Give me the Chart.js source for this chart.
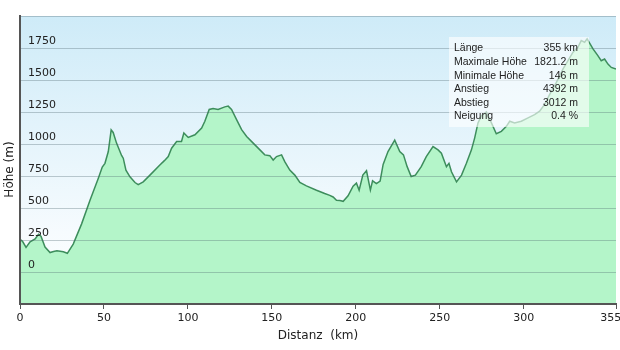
<!DOCTYPE html>
<html>
<head>
<meta charset="utf-8">
<script src="https://cdn.jsdelivr.net/npm/chart.js@4/dist/chart.umd.min.js"></script>
<style>
  body { margin: 0; background: #fff; }
  #wrap { width: 620px; height: 350px; }
</style>
</head>
<body>
<div id="wrap"><canvas id="profile"></canvas></div>
<script>
// Höhenprofil - Daten
const distances = [0, 1.5, 3.6, 6, 9, 11, 12.5, 14.9, 17.9, 20, 22, 25.8, 28.2, 31.7, 36.7, 41.7, 46.6, 49, 50.6, 52.6,
  54.3, 55.5, 57.5, 60.5, 61.5, 63.1, 65.5, 68.5, 70.4, 73.4, 77.4, 83.3, 86, 88.3, 90.3, 93.3, 96.2, 97.6, 100.2, 104.2,
  108.2, 110.1, 112.7, 115, 118, 122, 124, 126, 129, 132, 135, 138.9, 142.9, 145.8, 148.8, 150.8, 152.8, 155.8, 157.7, 160.7,
  163.7, 166.7, 170.6, 176.6, 181.5, 184.5, 186.5, 188.5, 190.5, 192.5, 195.4, 198.4, 200.4, 202, 204.2, 206.4, 208.7, 210, 212.3, 214.5,
  216.3, 219.2, 223.2, 226.2, 228.4, 230.6, 233, 235.5, 239, 242, 246, 249, 251, 254, 255.5, 257, 260, 263, 265.9, 268.9,
  270.8, 272.8, 274.8, 277.8, 280.8, 283.7, 286.7, 289.7, 291.7, 294.6, 298.6, 302.6, 306.5, 309.5, 312.5, 315.5, 319.4, 323.4, 326.4, 329.4,
  332.3, 334.3, 336.3, 337.8, 341.3, 344.2, 346.2, 348.2, 350.2, 352.2, 355];
const elevations = [255, 240, 192, 235, 258, 295, 280, 195, 152, 160, 166, 158, 146, 218, 376, 560, 731, 820, 849, 941,
  1110, 1090, 1007, 910, 889, 796, 744, 699, 683, 704, 757, 836, 870, 902, 967, 1020, 1020, 1086, 1051, 1072,
  1125, 1178, 1270, 1277, 1270, 1290, 1296, 1270, 1191, 1112, 1059, 1007, 954, 915, 909, 875, 902, 915, 862, 796,
  757, 699, 673, 639, 613, 599, 586, 560, 558, 552, 595, 670, 694, 639, 757, 791, 640, 712, 691, 710,
  840, 941, 1030, 941, 915, 823, 746, 757, 823, 902, 980, 954, 928, 823, 849, 783, 704, 757, 850, 954,
  1046, 1165, 1220, 1250, 1165, 1080, 1099, 1138, 1178, 1165, 1178, 1204, 1230, 1256, 1309, 1388, 1480, 1585, 1651, 1717,
  1756, 1808, 1795, 1821, 1743, 1690, 1651, 1664, 1624, 1598, 1585];

const xTickValues = [0, 50, 100, 150, 200, 250, 300, 355];
const yTickValues = [0, 250, 500, 750, 1000, 1250, 1500, 1750];

const infoLabels = ['Länge', 'Maximale Höhe', 'Minimale Höhe', 'Anstieg', 'Abstieg', 'Neigung'];
const infoValues = ['355 km', '1821.2 m', '146 m', '4392 m', '3012 m', '0.4 %'];

const points = distances.map((d, i) => ({ x: d, y: elevations[i] }));

// blauer Verlauf im Hintergrund
const skyBackground = {
  id: 'skyBackground',
  beforeDraw(chart) {
    const { ctx, chartArea: a } = chart;
    if (!a) return;
    const g = ctx.createLinearGradient(0, a.top, 0, a.bottom);
    g.addColorStop(0, 'rgb(206,235,248)');
    g.addColorStop(0.75, 'rgb(246,251,254)');
    g.addColorStop(1, 'rgb(255,255,255)');
    ctx.save();
    ctx.fillStyle = g;
    ctx.fillRect(a.left, a.top, a.right - a.left, a.bottom - a.top);
    ctx.restore();
  },
};

// Infokasten oben rechts
const infoBox = {
  id: 'infoBox',
  afterDraw(chart) {
    const { ctx, chartArea: a } = chart;
    const w = 140, h = 90;
    const left = a.right - 27 - w;
    const top = a.top + 21;
    ctx.save();
    ctx.fillStyle = 'rgba(255,255,255,0.62)';
    ctx.fillRect(left, top, w, h);
    ctx.font = '10.5px "Liberation Sans", Arial, sans-serif';
    ctx.fillStyle = '#222';
    ctx.textBaseline = 'middle';
    infoLabels.forEach((lab, i) => {
      const y = top + 11.5 + i * 13.6;
      ctx.textAlign = 'left';
      ctx.fillText(lab, left + 5, y);
      ctx.textAlign = 'right';
      ctx.fillText(infoValues[i], left + w - 11, y);
    });
    ctx.restore();
  },
};

const ctx = document.getElementById('profile');
new Chart(ctx, {
  type: 'line',
  data: {
    datasets: [
      {
        data: points,
        borderColor: '#3d8d5c',
        borderWidth: 1.5,
        backgroundColor: 'rgb(180,245,201)',
        fill: 'start',
        pointRadius: 0,
        tension: 0,
      },
    ],
  },
  options: {
    animation: false,
    responsive: true,
    maintainAspectRatio: false,
    layout: { padding: { top: 16, right: 4, left: 0, bottom: 0 } },
    plugins: { legend: { display: false }, tooltip: { enabled: false } },
    scales: {
      x: {
        type: 'linear',
        min: 0,
        max: 355,
        afterBuildTicks: (scale) => {
          scale.ticks = xTickValues.map((v) => ({ value: v }));
        },
        afterFit: (scale) => {
          scale.height = 46;
          scale.paddingLeft = 0;
          scale.paddingRight = 0;
        },
        grid: { drawOnChartArea: false, drawTicks: true, tickLength: 5, color: '#555' },
        border: { color: '#555', width: 2, z: 2 },
        ticks: {
          maxRotation: 0,
          autoSkip: false,
          padding: 3,
          color: '#222',
          font: { family: 'DejaVu Sans', size: 11 },
          // letzte Beschriftung etwas nach links schieben
          callback: (v, i, ticks) => (i === ticks.length - 1 ? v + '\u00a0\u00a0\u00a0' : String(v)),
        },
        title: {
          display: true,
          text: 'Distanz  (km)',
          color: '#222',
          font: { family: 'DejaVu Sans', size: 12 },
          padding: { top: 0, bottom: 7 },
        },
      },
      y: {
        min: -250,
        max: 2000,
        afterFit: (scale) => {
          scale.width = 20;
        },
        ticks: {
          stepSize: 250,
          autoSkip: false,
          mirror: true,
          padding: 8,
          labelOffset: -7,
          z: 1, // Beschriftung über der Fläche
          color: '#222',
          font: { family: 'DejaVu Sans', size: 11 },
          callback: (v) => {
            const r = Math.round(v);
            return yTickValues.includes(r) ? String(r) : '';
          },
        },
        grid: { color: 'rgba(70,95,105,0.32)', lineWidth: 1, drawTicks: false, z: 1 },
        border: { color: '#555', width: 2, z: 2 },
        title: {
          display: true,
          text: 'Höhe (m)\u00a0\u00a0\u00a0\u00a0\u00a0',
          color: '#222',
          font: { family: 'DejaVu Sans', size: 12 },
          padding: { top: 3, bottom: 0 },
        },
      },
    },
  },
  plugins: [skyBackground, infoBox],
});
</script>
</body>
</html>
